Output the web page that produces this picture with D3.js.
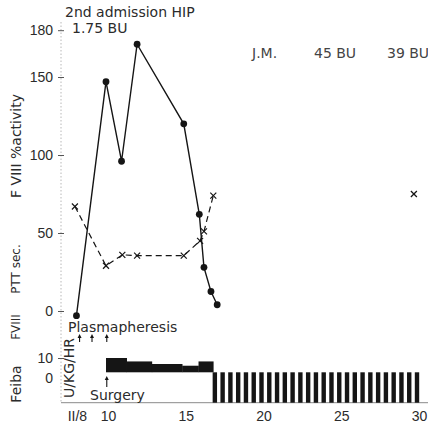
<!DOCTYPE html>
<html>
<head>
<meta charset="utf-8">
<script src="https://cdn.jsdelivr.net/npm/d3@7/dist/d3.min.js"></script>
<style>
  html, body { margin: 0; padding: 0; background: #fff; }
  svg { display: block; }
  text { fill: #2b2b2b; font-family: "DejaVu Sans", sans-serif; }
  .num { font-family: "Liberation Sans", sans-serif; }
</style>
</head>
<body>
<svg id="chart" width="428" height="429"></svg>
<script>
// Factor VIII activity (%) after each sample day
const fviiiDays = [8.1, 10, 11, 12, 15, 16, 16.3, 16.75, 17.15];
const fviiiActivity = [-3, 147, 96, 171, 120, 62, 28, 12.5, 4];

// Partial thromboplastin time (sec.)
const pttDays = [8, 10, 11.05, 12, 15, 16.05, 16.3, 16.9];
const pttSeconds = [67, 29, 36, 35.5, 35.5, 45, 51, 74];
const pttLateDays = [29.8];
const pttLateSeconds = [75];

// FVIII continuous infusion, U/KG/HR (step changes)
const infusionStart = [10, 11.33, 12.95, 14.9, 15.95];
const infusionEnd = [11.33, 12.95, 14.9, 15.95, 16.9];
const infusionRate = [10, 7.6, 5.8, 4.6, 7.6];

// Feiba doses, twice daily
const feibaDays = [17, 17.5, 18, 18.5, 19, 19.5, 20, 20.5, 21, 21.5, 22, 22.5, 23, 23.5,
                   24, 24.5, 25, 25.5, 26, 26.5, 27, 27.5, 28, 28.5, 29, 29.5, 30];
const feibaDose = [1];

// Events
const plasmapheresisDays = [8.3, 9.1, 10.05];
const surgeryDays = [10.05];

// Axis ticks
const dayTicks = [8, 10, 15, 20, 25, 30];
const dayTickLabels = ["II/8", "10", "15", "20", "25", "30"];
const activityTicks = [0, 50, 100, 150, 180];
const doseTicks = [0, 10];

// Annotations
const headerTitle = "2nd admission HIP";
const headerInhibitor = "1.75 BU";
const patientNotes = [
  { text: "J.M.", x: 252 },
  { text: "45 BU", x: 314 },
  { text: "39 BU", x: 387 }
];

const ink = "#151515";
const svg = d3.select("#chart");

const x = d3.scaleLinear().domain([10, 30]).range([106, 417]);
const y = d3.scaleLinear().domain([0, 180]).range([311, 30.2]);
const yDose = d3.scaleLinear().domain([0, 10]).range([372.3, 358]);
const yFeiba = d3.scaleLinear().domain([0, 1]).range([402.7, 372.3]);
const axisX = 61;
const baseY = yFeiba(0);

// Frame: faint dotted vertical axis and bottom baseline
svg.append("line")
  .attr("x1", axisX).attr("x2", axisX)
  .attr("y1", 22).attr("y2", baseY)
  .attr("stroke", "#b8b8b8").attr("stroke-width", 1)
  .attr("stroke-dasharray", "1.5,2");
svg.append("line")
  .attr("x1", axisX).attr("x2", 428)
  .attr("y1", baseY).attr("y2", baseY)
  .attr("stroke", "#8a8a8a").attr("stroke-width", 1);

// Activity / PTT axis
const gy = svg.append("g")
  .attr("transform", `translate(${axisX},0)`)
  .call(d3.axisLeft(y).tickValues(activityTicks).tickSizeInner(3).tickSizeOuter(0).tickPadding(5));
gy.select(".domain").remove();
gy.selectAll(".tick line").attr("x1", 3).attr("stroke", "#555");
gy.selectAll(".tick text").attr("class", "num").style("font-size", "14px").attr("fill", "#2b2b2b");

// Infusion dose axis
const gd = svg.append("g")
  .attr("transform", `translate(${axisX},0)`)
  .call(d3.axisLeft(yDose).tickValues(doseTicks).tickSizeInner(3).tickSizeOuter(0).tickPadding(5));
gd.select(".domain").remove();
gd.selectAll(".tick line").attr("x1", 3).attr("stroke", "#555")
  .attr("opacity", d => d === 0 ? 0 : 1);
gd.selectAll(".tick text").attr("class", "num").style("font-size", "14px").attr("fill", "#2b2b2b")
  .attr("y", d => d === 0 ? 6 : 0);

// Day axis labels
const gx = svg.append("g")
  .attr("transform", `translate(0,${baseY + 4})`)
  .call(d3.axisBottom(x).tickValues(dayTicks)
    .tickFormat((d, i) => dayTickLabels[i]).tickSize(0).tickPadding(4));
gx.select(".domain").remove();
gx.selectAll(".tick text").attr("class", "num").style("font-size", "14px")
  .attr("fill", "#2b2b2b").attr("dx", 2);

// FVIII infusion block
svg.append("g").selectAll("rect")
  .data(infusionRate)
  .join("rect")
  .attr("x", (d, i) => x(infusionStart[i]))
  .attr("width", (d, i) => x(infusionEnd[i]) - x(infusionStart[i]) + 0.3)
  .attr("y", d => yDose(d))
  .attr("height", d => yDose(0) - yDose(d))
  .attr("fill", ink);

// Feiba dose stripes
svg.append("g").selectAll("rect")
  .data(feibaDays)
  .join("rect")
  .attr("x", d => x(d) - 2.2)
  .attr("width", 4.4)
  .attr("y", yFeiba(feibaDose[0]))
  .attr("height", yFeiba(0) - yFeiba(feibaDose[0]))
  .attr("fill", ink);

// PTT dashed line
const pttPts = pttDays.map((d, i) => [d, pttSeconds[i]]);
svg.append("path")
  .datum(pttPts)
  .attr("d", d3.line().x(d => x(d[0])).y(d => y(d[1])))
  .attr("fill", "none").attr("stroke", ink)
  .attr("stroke-width", 1.2).attr("stroke-dasharray", "6,4");

// FVIII solid line
const fPts = fviiiDays.map((d, i) => [d, fviiiActivity[i]]);
svg.append("path")
  .datum(fPts)
  .attr("d", d3.line().x(d => x(d[0])).y(d => y(d[1])))
  .attr("fill", "none").attr("stroke", ink).attr("stroke-width", 1.4);

// PTT crosses
const crossPts = pttPts.concat(pttLateDays.map((d, i) => [d, pttLateSeconds[i]]));
const cross = svg.append("g").selectAll("g")
  .data(crossPts)
  .join("g")
  .attr("transform", d => `translate(${x(d[0])},${y(d[1])})`);
cross.append("line").attr("x1", -3).attr("y1", -3).attr("x2", 3).attr("y2", 3)
  .attr("stroke", ink).attr("stroke-width", 1.2);
cross.append("line").attr("x1", -3).attr("y1", 3).attr("x2", 3).attr("y2", -3)
  .attr("stroke", ink).attr("stroke-width", 1.2);

// FVIII dots
svg.append("g").selectAll("circle")
  .data(fPts)
  .join("circle")
  .attr("cx", d => x(d[0])).attr("cy", d => y(d[1]))
  .attr("r", 3.4).attr("fill", ink);

// Event arrows
function arrow(g, cx, top, bottom) {
  g.append("line").attr("x1", cx).attr("x2", cx).attr("y1", top + 2).attr("y2", bottom)
    .attr("stroke", ink).attr("stroke-width", 1.1);
  g.append("path")
    .attr("d", `M${cx},${top} L${cx - 2},${top + 4} L${cx + 2},${top + 4} Z`)
    .attr("fill", ink);
}
const ev = svg.append("g");
plasmapheresisDays.forEach(d => arrow(ev, x(d), 334, 342));
surgeryDays.forEach(d => arrow(ev, x(d), 376, 387));

// Annotations
svg.append("text").attr("x", 65).attr("y", 17).style("font-size", "14px").text(headerTitle);
svg.append("text").attr("x", 72).attr("y", 33).style("font-size", "14px").text(headerInhibitor);
svg.append("g").selectAll("text")
  .data(patientNotes)
  .join("text")
  .attr("x", d => d.x).attr("y", 58)
  .style("font-size", "14px").style("fill", "#444")
  .text(d => d.text);

svg.append("text").attr("x", 68).attr("y", 332).style("font-size", "14px").text("Plasmapheresis");
svg.append("text").attr("x", 90).attr("y", 400).style("font-size", "14px").text("Surgery");
svg.append("text")
  .attr("transform", "translate(69,368) rotate(-90)")
  .attr("text-anchor", "middle").attr("dominant-baseline", "central")
  .style("font-size", "14px").text("U/KG/HR");

// Left axis titles
const titles = [
  { text: "F VIII %activity", y: 146, size: 14 },
  { text: "PTT sec.", y: 269, size: 12 },
  { text: "FVIII", y: 327, size: 12 },
  { text: "Feiba", y: 384, size: 14 }
];
svg.append("g").selectAll("text")
  .data(titles)
  .join("text")
  .attr("transform", d => `translate(16,${d.y}) rotate(-90)`)
  .attr("text-anchor", "middle").attr("dominant-baseline", "central")
  .style("font-size", d => d.size + "px")
  .text(d => d.text);
</script>
</body>
</html>
